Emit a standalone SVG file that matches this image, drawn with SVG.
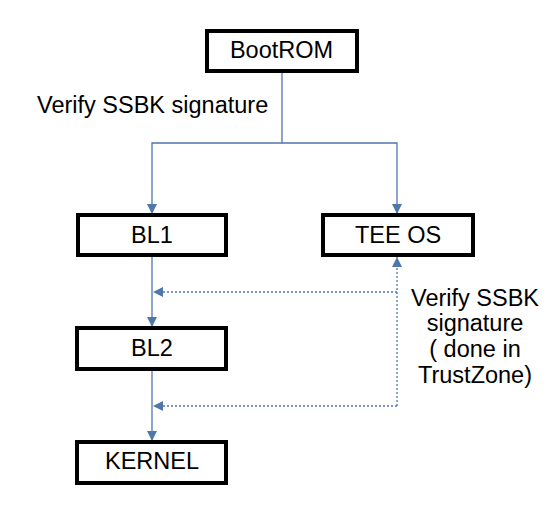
<svg xmlns="http://www.w3.org/2000/svg" width="557" height="530" viewBox="0 0 557 530">
<style>
.box{fill:#fff;stroke:#000;stroke-width:4}
.t{font-family:"Liberation Sans",Arial,sans-serif;font-size:23.5px;fill:#000}
.c{fill:none;stroke:#4f77aa;stroke-width:1.3}
.d{fill:none;stroke:#4f77aa;stroke-width:1.3;stroke-dasharray:2 2}
</style>
<defs>
<marker id="ah" viewBox="0 0 10 10" refX="10" refY="5" markerWidth="10" markerHeight="10" markerUnits="userSpaceOnUse" orient="auto">
<path d="M0,0 L10,5 L0,10 Z" fill="#4f77aa"/>
</marker>
</defs>
<rect width="557" height="530" fill="#fff"/>
<g id="connectors">
<path class="c" d="M282,72 V143 H152 V214" marker-end="url(#ah)"/>
<path class="c" d="M282,143 H397 V214" marker-end="url(#ah)"/>
<path class="c" d="M152,257 V327" marker-end="url(#ah)"/>
<path class="c" d="M152,371 V441" marker-end="url(#ah)"/>
<path class="d" d="M397,292 H153" marker-end="url(#ah)"/>
<path class="d" d="M397,406 H153" marker-end="url(#ah)"/>
<path class="d" d="M397,406 V257" marker-end="url(#ah)"/>
<text class="t" x="37" y="113">Verify SSBK signature</text>
<text class="t" text-anchor="middle" x="475" y="306">Verify SSBK</text>
<text class="t" text-anchor="middle" x="475" y="331">signature</text>
<text class="t" text-anchor="middle" x="475" y="357">( done in</text>
<text class="t" text-anchor="middle" x="475" y="383">TrustZone)</text>
</g>
<g id="bootrom"><rect class="box" x="207" y="31" width="150" height="40"/><text class="t" text-anchor="middle" x="281.5" y="58">BootROM</text></g>
<g id="bl1"><rect class="box" x="78" y="215" width="148" height="40"/><text class="t" text-anchor="middle" x="152" y="243">BL1</text></g>
<g id="teeos"><rect class="box" x="323" y="215" width="150" height="40"/><text class="t" text-anchor="middle" x="398" y="243">TEE OS</text></g>
<g id="bl2"><rect class="box" x="77" y="328" width="149" height="41"/><text class="t" text-anchor="middle" x="152" y="356">BL2</text></g>
<g id="kernel"><rect class="box" x="77" y="442" width="149" height="41"/><text class="t" text-anchor="middle" x="152" y="469">KERNEL</text></g>
</svg>
